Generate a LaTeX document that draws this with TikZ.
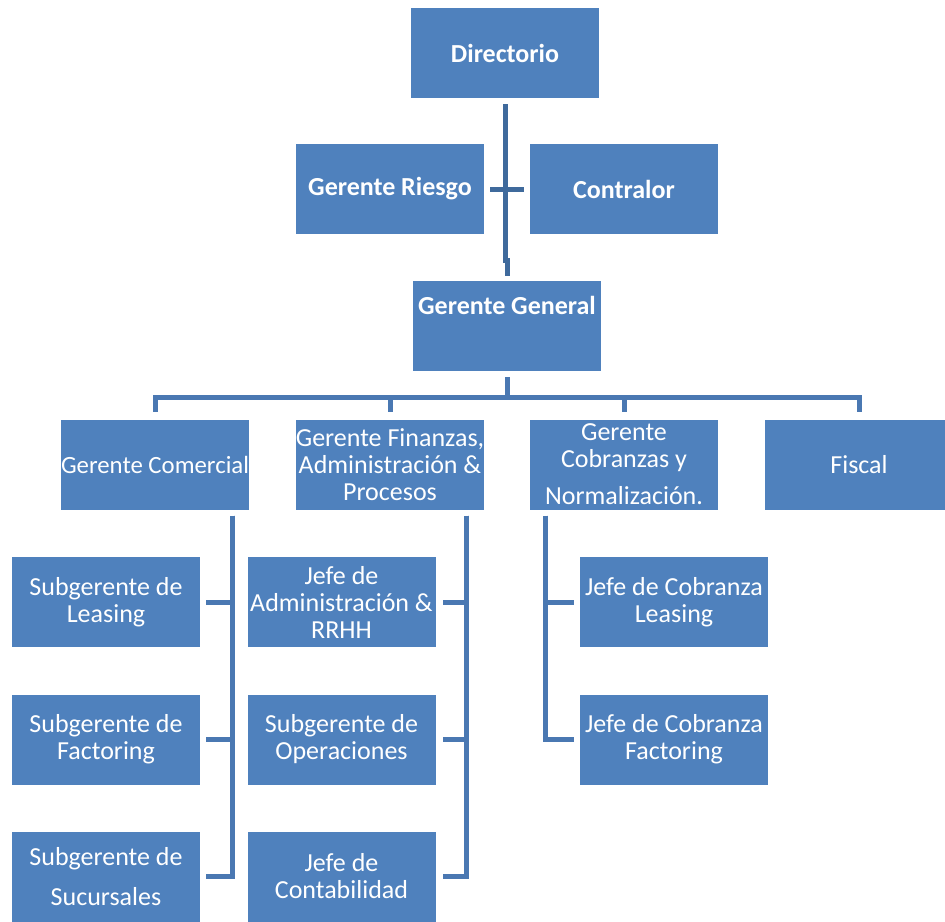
\documentclass[tikz,border=0pt]{standalone}
\usepackage{fontspec}
\setmainfont{Carlito}
\definecolor{boxblue}{HTML}{4F81BD}
\definecolor{lineblue}{HTML}{4A78B2}
\definecolor{darkline}{HTML}{3F6A9C}
\tikzset{
  box/.style={rectangle, fill=boxblue, text=white, minimum width=188pt, minimum height=90pt,
    inner sep=0pt, align=center, font=\fontsize{26}{27}\selectfont},
  bbox/.style={box, font=\fontsize{26}{27}\selectfont\bfseries},
  link/.style={draw=lineblue, line width=5pt},
}
\begin{document}
\begin{tikzpicture}[x=1pt,y=1pt]
\useasboundingbox (0,0) rectangle (945,-921);
\clip (0,0) rectangle (945,-921);
% top
\node[bbox] (dir) at (505,-53) {Directorio};
\node[bbox] (rie) at (390,-189) {Gerente Riesgo};
\node[bbox] (con) at (624,-189) {Contralor};
\node[bbox, text height=17pt, text depth=41pt] (gg) at (507,-326) {Gerente General};
% second row
\node[box, inner xsep=-4pt, font=\fontsize{24.8}{27}\selectfont] (com) at (155,-464.5) {Gerente Comercial};
\node[box] (fin) at (390,-464.5) {Gerente Finanzas,\\ Administración \&\\ Procesos};
\node[box] (cob) at (624,-464.5) {Gerente\\ Cobranzas y\\[10pt] Normalización.};
\node[box] (fis) at (859,-464.5) {Fiscal};
% columns
\node[box] (lea) at (106,-602) {Subgerente de\\ Leasing};
\node[box] (fac) at (106,-739.5) {Subgerente de\\ Factoring};
\node[box] (suc) at (106,-876.5) {Subgerente de\\[13pt] Sucursales};
\node[box] (adm) at (341.5,-602) {Jefe de\\ Administración \&\\ RRHH};
\node[box] (ope) at (341.5,-739.5) {Subgerente de\\ Operaciones};
\node[box] (cont) at (341.5,-876.5) {Jefe de\\ Contabilidad};
\node[box] (cl) at (674,-602) {Jefe de Cobranza\\ Leasing};
\node[box] (cf) at (674,-739.5) {Jefe de Cobranza\\ Factoring};

\draw[link, darkline] ([yshift=-6pt]dir.south) -- ++(0,-156) -| ([yshift=5pt]gg.north);
\draw[link, darkline] ([xshift=6pt]rie.east) -- ([xshift=-6pt]con.west);
\foreach \c in {com,fin,cob,fis}
  \draw[link] ([yshift=-6pt]gg.south) -- ++(0,-20) -| ([yshift=7pt]\c.north);
\foreach \c in {lea,fac,suc}
  \draw[link] ([xshift=-17pt,yshift=-6pt]com.south east) |- ([xshift=6pt]\c.east);
\foreach \c in {adm,ope,cont}
  \draw[link] ([xshift=-18pt,yshift=-6pt]fin.south east) |- ([xshift=7pt]\c.east);
\foreach \c in {cl,cf}
  \draw[link] ([xshift=16pt,yshift=-6pt]cob.south west) |- ([xshift=-6pt]\c.west);
\end{tikzpicture}
\end{document}
